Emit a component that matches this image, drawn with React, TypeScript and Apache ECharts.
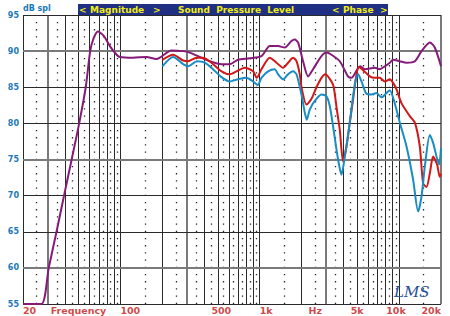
import React, { useEffect, useRef } from "react";
import * as echarts from "echarts";

// ---- Data (frequency in Hz, level in dB SPL) ----
const purpleFreq = [20, 27.1, 30.6, 34.8, 39.4, 44.7, 50.6, 56.4, 60.7, 64, 69, 76, 84, 94, 99, 123, 154, 181, 192, 233, 282, 315, 371, 438, 532, 609, 699, 848, 1029, 1181, 1354, 1512, 1690, 1784, 1884, 2047, 2223, 2414, 2774, 3012, 3272, 3755, 4306, 4555, 5251, 5679, 6697, 7273, 7904, 8584, 9065, 10127, 11314, 12985, 14496, 16626, 18048, 20000];
const purpleDb = [55, 55, 60, 65, 70, 75, 80, 85, 90, 91.7, 92.7, 92.1, 90.7, 89.5, 89.2, 89.1, 89.2, 88.9, 89.1, 90.1, 90, 89.8, 89.2, 88.6, 88.2, 88.2, 88.8, 89, 89.3, 90.7, 90.7, 90.5, 91.4, 91.6, 91.2, 88.6, 86.5, 87.5, 89.3, 89.8, 89.5, 88.6, 86.5, 86.3, 87.9, 87.5, 87.7, 87.5, 87.9, 88.4, 88.8, 88.6, 88.4, 88.6, 90, 91.2, 90.5, 87.9];

const redFreq = [200, 239, 282, 306, 352, 392, 450, 532, 609, 681, 781, 896, 952, 1029, 1181, 1319, 1471, 1598, 1735, 1836, 1938, 2004, 2166, 2352, 2555, 2774, 2964, 3272, 3399, 3572, 3755, 3966, 4194, 4429, 4677, 4900, 5150, 5500, 6165, 6697, 7273, 7904, 8584, 9065, 9592, 10412, 11945, 12985, 14092, 14883, 15742, 16626, 17553, 18750, 19607, 20000];
const redDb = [88.8, 89.5, 88.7, 88.6, 89.1, 89.1, 88.4, 87.2, 86.8, 87.2, 87.7, 87.2, 86.3, 87.5, 89.1, 88.4, 87.7, 88.4, 89.1, 88.6, 86.8, 84.8, 82.6, 83.4, 85.0, 86.3, 86.8, 85.8, 85.0, 82.0, 79.1, 74.7, 76.8, 80.1, 83.3, 86.3, 87.8, 87.4, 86.5, 86.3, 86.3, 85.8, 86.1, 85.6, 84.7, 82.8, 81.0, 80.1, 76.8, 71.7, 71.2, 73.1, 75.4, 74.3, 72.6, 73.0];

const blueFreq = [200, 239, 282, 306, 356, 403, 462, 532, 609, 699, 803, 896, 968, 1029, 1148, 1282, 1354, 1471, 1598, 1735, 1836, 1993, 2105, 2176, 2286, 2483, 2774, 3012, 3182, 3361, 3651, 3861, 4080, 4429, 4677, 4891, 5081, 5375, 5839, 6341, 6889, 7482, 8127, 8584, 9245, 10127, 11314, 12618, 13700, 14496, 15305, 16626, 17553, 19376, 20000];
const blueDb = [87.9, 89.2, 88.2, 87.9, 88.6, 88.4, 87.5, 86.4, 85.8, 86.1, 86.3, 85.8, 85.3, 86.3, 87.2, 87.5, 86.8, 86.1, 86.8, 87.2, 86.8, 84.0, 81.5, 80.5, 81.9, 83.1, 84.0, 83.75, 82.4, 79.6, 75.0, 72.9, 75.4, 80.1, 83.75, 86.0, 86.8, 85.8, 84.1, 84.0, 84.2, 83.6, 84.2, 84.6, 83.0, 80.1, 76.8, 72.2, 67.8, 69.9, 74.0, 78.4, 77.3, 74.3, 76.6];

// ---- Grid / tick definitions ----
const majorFreqs = [20, 30, 40, 50, 60, 70, 80, 90, 100, 200, 300, 400, 500, 600, 700, 800, 900, 1000, 2000, 3000, 4000, 5000, 6000, 7000, 8000, 9000, 10000, 20000];
const greyFreqs = [30, 300, 3000, 20000];
const minorFreqs = [25, 35, 45, 55, 65, 75, 85, 95, 150, 250, 350, 450, 550, 650, 750, 850, 950, 1500, 2500, 3500, 4500, 5500, 6500, 7500, 8500, 9500, 15000];
const dbLines = [55, 60, 65, 70, 75, 80, 85, 90, 95];
const greyDbLines = [60, 75, 90];

const xLabelTexts = ["20", "Frequency", "100", "500", "1k", "Hz", "5k", "10k", "20k"];
const xLabelFreqs = [20, 50, 100, 530, 1000, 2500, 5000, 9500, 20000];
const xLabelAligns = ["left", "center", "left", "center", "left", "center", "center", "center", "right"];

const FMIN = 20;
const FMAX = 20000;
const DBMIN = 55;
const DBMAX = 95;

const toPairs = (xs: number[], ys: number[]) => xs.map((x, i) => [x, ys[i]]);

export default function App() {
  const ref = useRef<HTMLDivElement>(null);

  useEffect(() => {
    const chart = echarts.init(ref.current!, null, { renderer: "svg" });

    const gridLines: any[] = [];
    minorFreqs.forEach((f) => {
      gridLines.push([
        { coord: [f, DBMIN], lineStyle: { color: "#222", width: 1.3, type: [1.3, 5.9], opacity: 1 } },
        { coord: [f, DBMAX] },
      ]);
    });
    majorFreqs.forEach((f) => {
      const grey = greyFreqs.includes(f);
      gridLines.push([
        { coord: [f, DBMIN], lineStyle: { color: grey ? "#7a7a7a" : "#2a2a2a", width: grey ? 2 : 1, type: "solid", opacity: 1 } },
        { coord: [f, DBMAX] },
      ]);
    });
    dbLines.forEach((v) => {
      const grey = greyDbLines.includes(v);
      gridLines.push([
        { coord: [FMIN, v], lineStyle: { color: grey ? "#7a7a7a" : "#2a2a2a", width: grey ? 2 : 1, type: "solid", opacity: 1 } },
        { coord: [FMAX, v] },
      ]);
    });

    const labelData = xLabelTexts.map((t, i) => ({
      value: [xLabelFreqs[i], DBMIN],
      label: { formatter: t, align: xLabelAligns[i] },
    }));

    const lineSeries = (name: string, data: number[][], color: string) => ({
      name,
      type: "line",
      data,
      smooth: 0.25,
      symbol: "none",
      lineStyle: { color, width: 2 },
      z: 5,
      silent: true,
    });

    const option: any = {
      animation: false,
      backgroundColor: "#ffffff",
      grid: { left: 23, right: 9, top: 15, bottom: 12, containLabel: false },
      xAxis: {
        type: "log",
        logBase: 10,
        min: FMIN,
        max: FMAX,
        axisLine: { show: false },
        axisTick: { show: false },
        axisLabel: { show: false },
        splitLine: { show: false },
      },
      yAxis: {
        type: "value",
        min: DBMIN,
        max: DBMAX,
        interval: 5,
        axisLine: { show: false },
        axisTick: { show: false },
        splitLine: { show: false },
        axisLabel: {
          color: "#1a78b8",
          fontWeight: "bold",
          fontSize: 8,
          fontFamily: "DejaVu Sans",
          margin: 4,
        },
      },
      series: [
        {
          type: "line",
          data: [[FMIN, DBMIN]],
          symbol: "none",
          lineStyle: { width: 0 },
          silent: true,
          z: 1,
          markLine: {
            silent: true,
            symbol: ["none", "none"],
            label: { show: false },
            data: gridLines,
            animation: false,
          },
        },
        lineSeries("Magnitude", toPairs(purpleFreq, purpleDb), "#861a78"),
        lineSeries("Red", toPairs(redFreq, redDb), "#d01818"),
        lineSeries("Blue", toPairs(blueFreq, blueDb), "#1a8cc4"),
        {
          type: "scatter",
          data: labelData,
          symbolSize: 1,
          itemStyle: { color: "rgba(0,0,0,0)" },
          silent: true,
          clip: false,
          z: 6,
          label: {
            show: true,
            position: "bottom",
            distance: 1,
            color: "#c41414",
            fontWeight: "bold",
            fontSize: 9.5,
            fontFamily: "DejaVu Sans",
          },
        },
      ],
      graphic: [
        {
          type: "text",
          left: 23,
          top: 4,
          style: { text: "dB spl", fill: "#1a78b8", font: "bold 8px 'DejaVu Sans'" },
        },
        {
          type: "rect",
          shape: { x: 78, y: 4, width: 310, height: 11 },
          style: { fill: "#1f2f84" },
        },
        { type: "text", x: 79, y: 5, style: { text: "<", fill: "#f2ee10", font: "bold 9px 'DejaVu Sans'" } },
        { type: "text", x: 90, y: 5, style: { text: "Magnitude", fill: "#f2ee10", font: "bold 9px 'DejaVu Sans'" } },
        { type: "text", x: 153, y: 5, style: { text: ">", fill: "#f2ee10", font: "bold 9px 'DejaVu Sans'" } },
        { type: "text", x: 178, y: 5, style: { text: "Sound  Pressure  Level", fill: "#f2ee10", font: "bold 9px 'DejaVu Sans'" } },
        { type: "text", x: 332, y: 5, style: { text: "<", fill: "#f2ee10", font: "bold 9px 'DejaVu Sans'" } },
        { type: "text", x: 343, y: 5, style: { text: "Phase", fill: "#f2ee10", font: "bold 9px 'DejaVu Sans'" } },
        { type: "text", x: 380, y: 5, style: { text: ">", fill: "#f2ee10", font: "bold 9px 'DejaVu Sans'" } },
        {
          type: "text",
          x: 394,
          y: 284,
          z: 10,
          style: { text: "LMS", fill: "#1f4f96", font: "italic 15px 'DejaVu Serif'" },
        },
      ],
    };

    chart.setOption(option);
    return () => chart.dispose();
  }, []);

  return (
    <div
      ref={ref}
      style={{ position: "fixed", left: 0, top: 0, width: 450, height: 316, background: "#ffffff" }}
    />
  );
}
